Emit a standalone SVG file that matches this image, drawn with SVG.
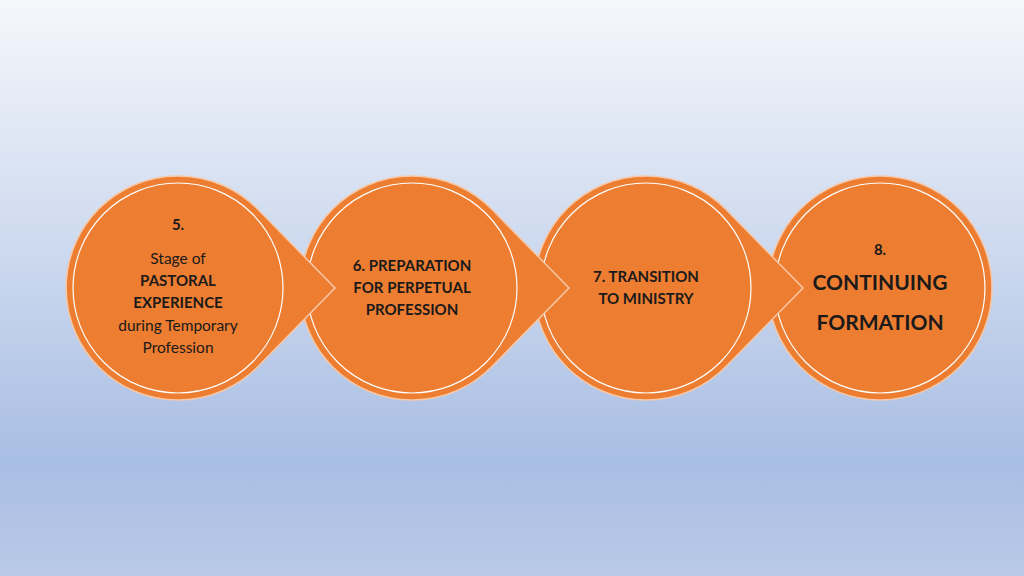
<svg xmlns="http://www.w3.org/2000/svg" width="1024" height="576" viewBox="0 0 1024 576">
<defs>
<linearGradient id="bg" x1="0" y1="0" x2="0" y2="1">
<stop offset="0" stop-color="#f5f7fb"/>
<stop offset="0.45" stop-color="#cbd8ee"/>
<stop offset="0.8" stop-color="#a9bee4"/>
<stop offset="1" stop-color="#b9c9e7"/>
</linearGradient>
<path id="drop" d="M80,-78.5 L157,0 L80,78.5 A112,112 0 1 1 80,-78.5 Z"/>
</defs>
<style>
.sh{fill:#ed7d31;stroke:#f6c8a8;stroke-width:1.5}
.in{fill:none;stroke:#fff;stroke-width:1.2}
text{font-family:Lato,"Open Sans",sans-serif;fill:#1a1a1a;text-anchor:middle}
.b{font-weight:bold}
</style>
<rect width="1024" height="576" fill="url(#bg)"/>
<g id="connectors"></g>
<g id="n8" transform="translate(880,288)">
<circle r="112" class="sh"/><circle r="105" class="in"/>
<text class="b" y="-33" font-size="15">8.</text>
<text class="b" y="2" font-size="21">CONTINUING</text>
<text class="b" y="42" font-size="21">FORMATION</text>
</g>
<g id="n7" transform="translate(646,288)">
<use href="#drop" class="sh"/><circle r="105" class="in"/>
<text class="b" y="-6" font-size="15">7. TRANSITION</text>
<text class="b" y="16" font-size="15">TO MINISTRY</text>
</g>
<g id="n6" transform="translate(412,288)">
<use href="#drop" class="sh"/><circle r="105" class="in"/>
<text class="b" y="-17" font-size="15">6. PREPARATION</text>
<text class="b" y="5" font-size="15">FOR PERPETUAL</text>
<text class="b" y="27" font-size="15">PROFESSION</text>
</g>
<g id="n5" transform="translate(178,288)">
<use href="#drop" class="sh"/><circle r="105" class="in"/>
<text class="b" y="-58" font-size="15">5.</text>
<text y="-24" font-size="15.5">Stage of</text>
<text class="b" y="-2" font-size="15">PASTORAL</text>
<text class="b" y="20" font-size="15">EXPERIENCE</text>
<text y="43" font-size="15.5">during Temporary</text>
<text y="65" font-size="15.5">Profession</text>
</g>
</svg>
